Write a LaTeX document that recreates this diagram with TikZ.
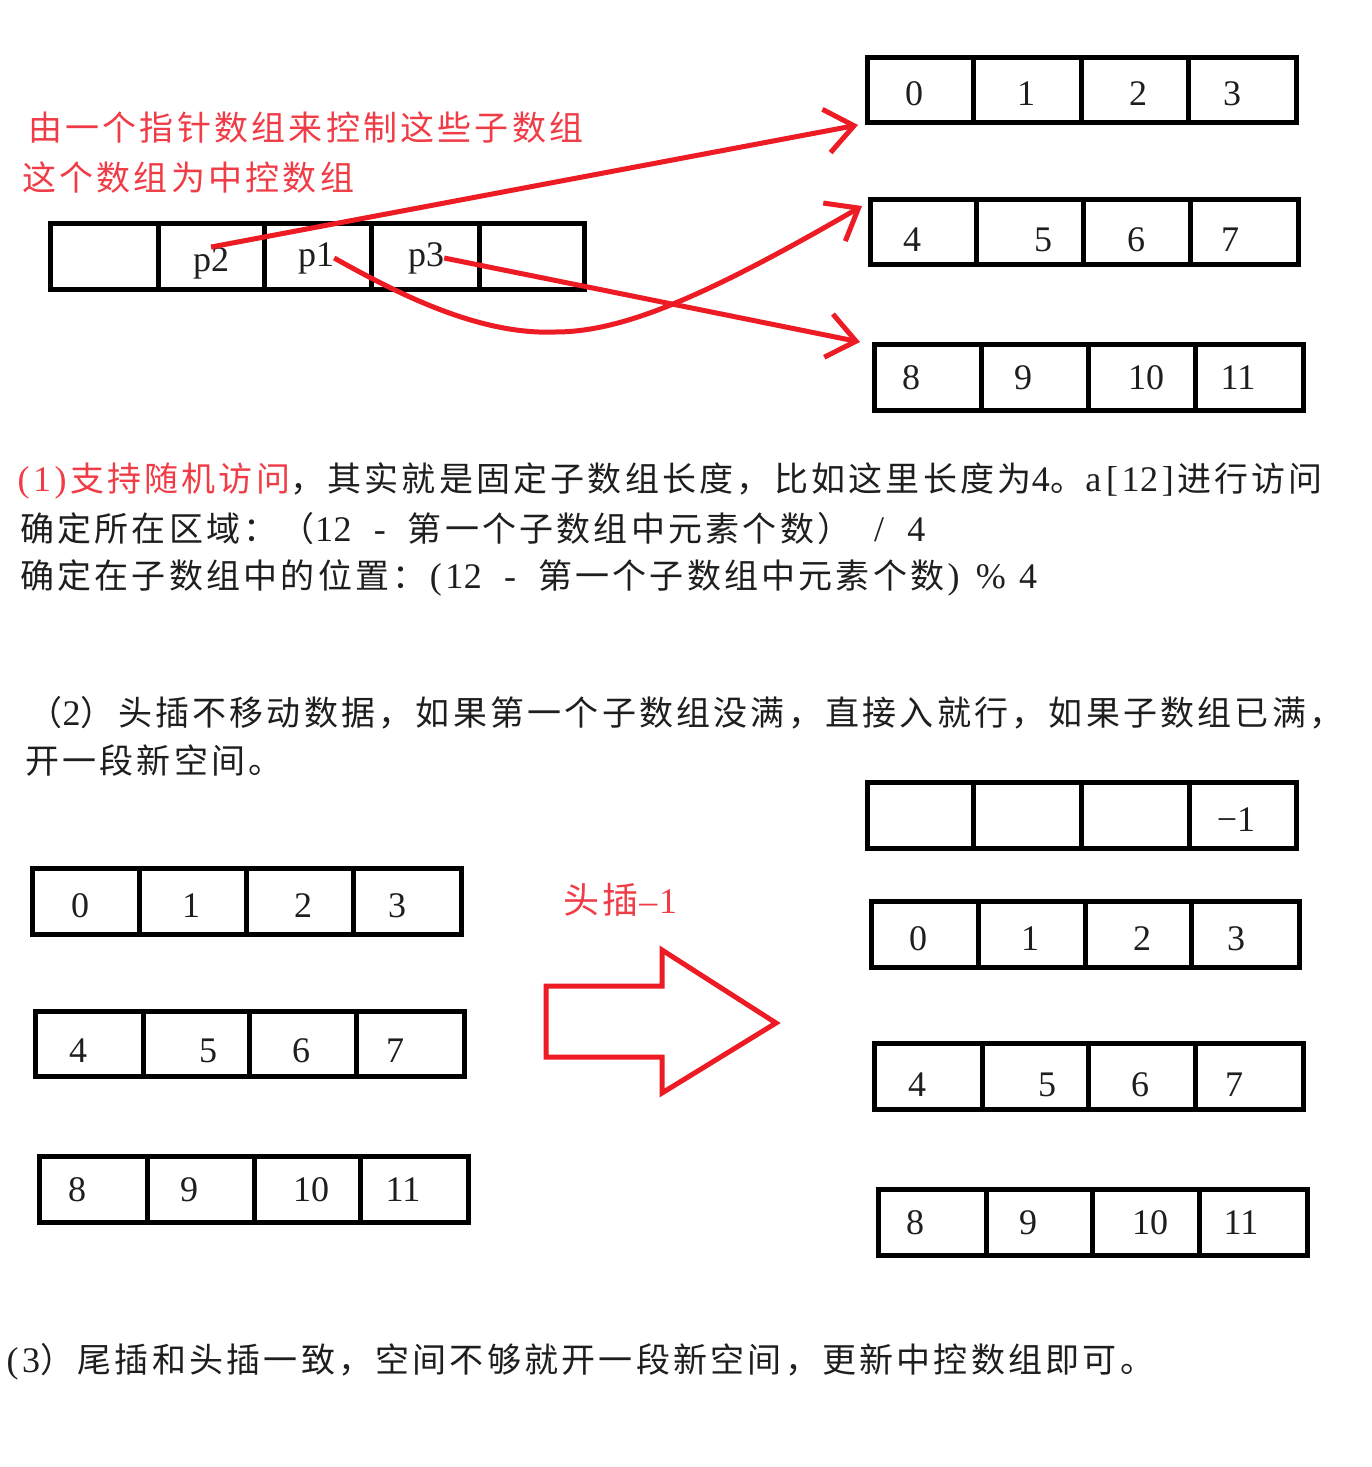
\documentclass[tikz,border=0pt]{standalone}
\usepackage{fontspec}
\setmainfont{Liberation Serif}
\newfontfamily\cjk[LetterSpace=9.5]{Noto Sans CJK SC}
\usetikzlibrary{arrows.meta}
\definecolor{myred}{RGB}{237,28,36}
\definecolor{txtred}{RGB}{240,60,70}
\definecolor{txtblack}{RGB}{30,30,30}
% half-width Latin character cell
\newcommand\h[2][18.6pt]{\makebox[#1]{\rmfamily\fontsize{36}{40}\selectfont #2}}
\tikzset{
 boxline/.style={line width=5pt, draw=black},
 dig/.style={font=\fontsize{36}{40}\selectfont, text=txtblack, inner sep=0pt},
 cjktext/.style={font=\cjk\fontsize{34}{40}\selectfont, text=txtblack, anchor=west, inner sep=0pt},
 redtext/.style={cjktext, text=txtred},
 ptr/.style={draw=myred, line width=5pt, -{Straight Barb[length=28pt,width=44pt]}},
 bigarrow/.style={draw=myred, line width=5pt, line join=miter},
}
% #1 name, #2 x0, #3 y0, #4 x1, #5 y1, #6 dividers
\newcommand\drawrow[6]{%
 \node[boxline, rectangle, inner sep=0pt, minimum width={#4-#2}, minimum height={#5-#3}] (#1) at ({(#2+#4)/2},{(#3+#5)/2}) {};
 \foreach \d in {#6} \draw[boxline] (\d,#3) -- (\d,#5);
}
% #1 prefix, #2 y, #3 x/label list
\newcommand\rowlabels[3]{%
 \foreach \xx/\tt [count=\i] in {#3} \node[dig] (#1-\i) at (\xx,#2) {\tt};
}
\begin{document}
\begin{tikzpicture}[x=1pt, y=-1pt]
\fill[white] (0,0) rectangle (1372,1467);
\useasboundingbox (0,0) rectangle (1372,1467);

% top right sub-arrays
\drawrow{A1}{867}{57}{1296}{122}{973,1081,1188}
\rowlabels{A1}{94}{914/0,1026/1,1138/2,1232/3}
\drawrow{A2}{870}{199}{1298}{264}{976,1083,1190}
\rowlabels{A2}{240}{912/4,1043/5,1136/6,1230/7}
\drawrow{A3}{874}{344}{1303}{410}{981,1088,1195}
\rowlabels{A3}{378}{911/8,1023/9,1146/10,1238/11}

% pointer array
\drawrow{P}{50}{223}{584}{289}{158,264,371,479}
\node[dig] (p2) at (211,263) {p2};
\node[dig] (p1) at (316,258) {p1};
\node[dig] (p3) at (426,258) {p3};

% red labels
\node[redtext] (t1) at (28,128) {由一个指针数组来控制这些子数组};
\node[redtext] (t2) at (22,178) {这个数组为中控数组};

% pointer arrows
\coordinate (e1) at (858,125);
\coordinate (e2) at (862,206);
\coordinate (e3) at (860,342);
\draw[ptr] (p2.north) -- (e1);
\draw[ptr] (p1.east) .. controls (400,295) and (480,335) .. (555,332) .. controls (620,332) and (700,300) .. (e2);
\draw[ptr] (p3.east) -- (e3);

% explanation text
\node[cjktext] (l1) at (14,481) {\textcolor{txtred}{\h{(}\h{1}\h{)}支持随机访问}，其实就是固定子数组长度，比如这里长度为\h{4}。\h{a}\h{[}\h{1}\h{2}\h{]}进行访问};
\node[cjktext] (l2) at (20,529) {确定所在区域：（\h{1}\h{2}\h{ }\h{-}\h{ }第一个子数组中元素个数）\h{ }\h{/}\h{ }\h{4}};
\node[cjktext] (l3) at (20,578) {确定在子数组中的位置：\h{(}\h{1}\h{2}\h{ }\h{-}\h{ }第一个子数组中元素个数\h{)}\h{ }\h{\%}\h{ }\h{4}};
\node[cjktext] (l4) at (28,713) {（\h{2}）头插不移动数据，如果第一个子数组没满，直接入就行，如果子数组已满，};
\node[cjktext] (l5) at (25,761) {开一段新空间。};

% left arrays
\drawrow{B1}{32}{868}{461}{934}{139,246,353}
\rowlabels{B1}{906}{80/0,191/1,303/2,397/3}
\drawrow{B2}{35}{1011}{464}{1076}{143,249,356}
\rowlabels{B2}{1051}{78/4,208/5,301/6,395/7}
\drawrow{B3}{39}{1156}{468}{1222}{147,254,360}
\rowlabels{B3}{1190}{77/8,189/9,311/10,403/11}

% big arrow and its label
\node[redtext, font=\cjk\fontsize{36}{40}\selectfont] (hd) at (563,900) {头插\h[19.7pt]{–}\h[19.7pt]{1}};
\draw[bigarrow] (546,986) -- (662,986) -- (662,950) -- (776,1023) -- (662,1093) -- (662,1057) -- (546,1057) -- cycle;

% right arrays after insertion
\drawrow{C0}{867}{782}{1296}{848}{973,1081,1189}
\node[dig] (C0-4) at (1236,820) {−1};
\drawrow{C1}{871}{901}{1299}{967}{978,1085,1191}
\rowlabels{C1}{939}{918/0,1030/1,1142/2,1236/3}
\drawrow{C2}{874}{1043}{1303}{1109}{982,1088,1195}
\rowlabels{C2}{1085}{917/4,1047/5,1140/6,1234/7}
\drawrow{C3}{878}{1189}{1307}{1255}{986,1092,1199}
\rowlabels{C3}{1223}{915/8,1028/9,1150/10,1241/11}

\node[cjktext] (l6) at (3,1362) {\h{(}\h{3}）尾插和头插一致，空间不够就开一段新空间，更新中控数组即可。};
\end{tikzpicture}
\end{document}
